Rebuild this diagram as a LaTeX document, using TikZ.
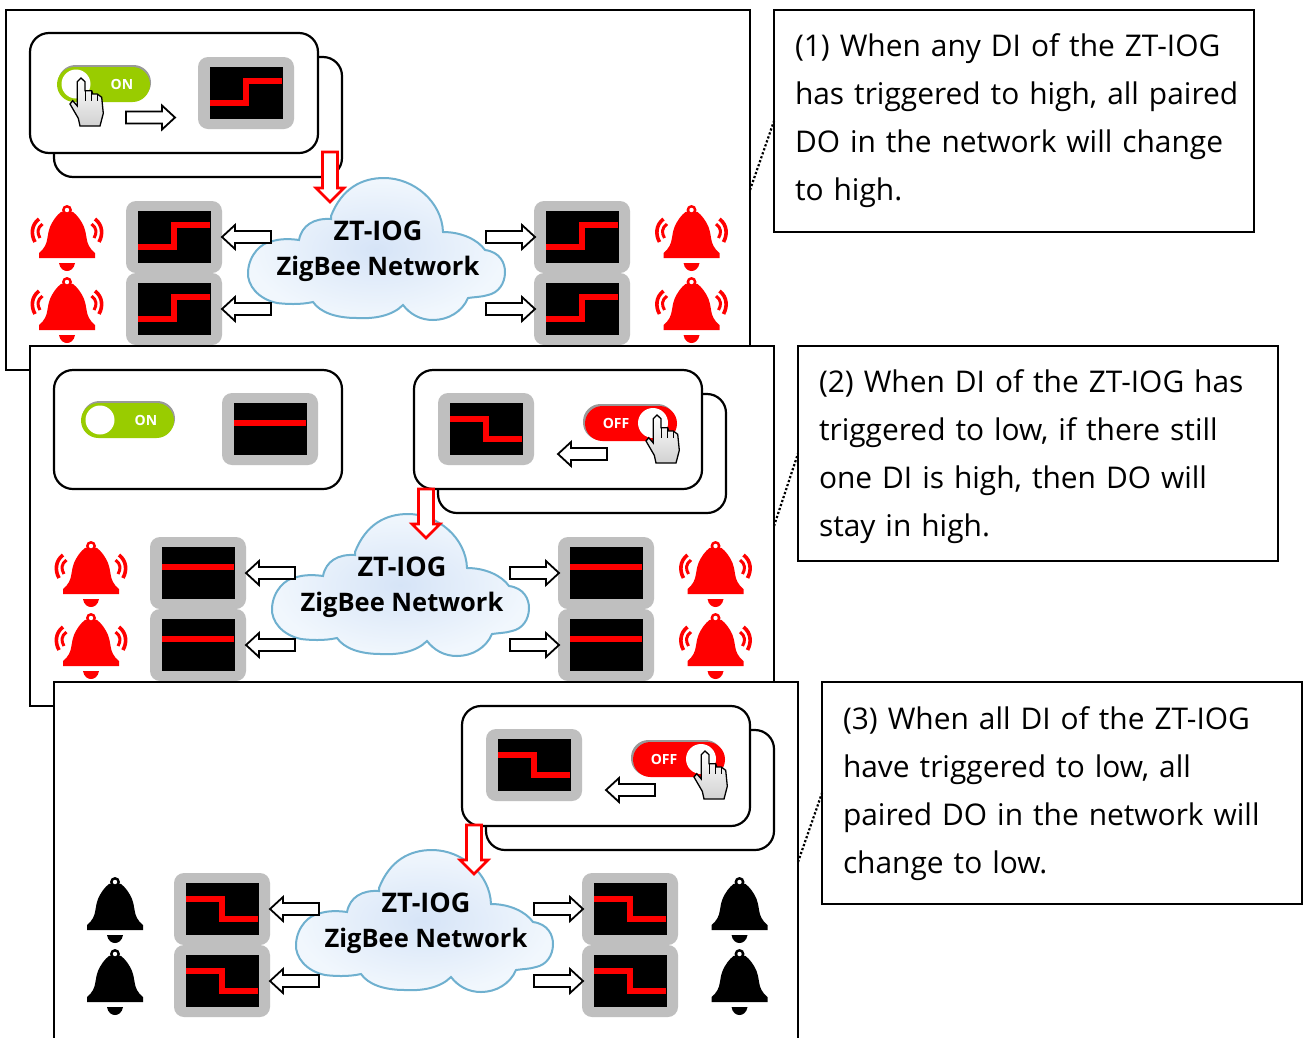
\documentclass[tikz,border=0pt]{standalone}
\usepackage{fontspec}
\setmainfont{Open Sans}
\definecolor{mongray}{HTML}{BFBFBF}
\definecolor{sigred}{HTML}{FF0000}
\definecolor{swgreen}{HTML}{99CC00}
\definecolor{cloudline}{HTML}{6FB0CF}
\definecolor{cloudin}{HTML}{D6E4F7}
\definecolor{cloudout}{HTML}{F1F7FD}
\tikzset{
  panelbox/.style={draw=black,line width=2pt,fill=white,rectangle,anchor=north west,minimum width=744pt,minimum height=360pt,inner sep=0pt,outer sep=0pt},
  notebox/.style={draw=black,line width=2pt,fill=white,rectangle,anchor=north west,minimum width=480pt,text width=438pt,align=left,inner xsep=21pt,inner ysep=0pt,outer sep=0pt,font=\fontsize{29.9}{48}\selectfont},
  leader/.style={line width=2.2pt,dotted},
  cardbox/.style={draw=black,line width=2.2pt,fill=white,rounded corners=19pt},
  hollow/.style={draw=black,line width=1.8pt,fill=white,miter limit=10},
  redhollow/.style={draw=sigred,line width=2.6pt,fill=white},
  sigline/.style={draw=sigred,line width=5.5pt},
  cloudlabel/.style={font=\bfseries\fontsize{25.5}{35}\selectfont,align=center,inner sep=0pt},
}
% monitor: top-left, kind 0 rise / 1 fall / 2 flat
\newcommand{\Monitor}[3]{%
  \begin{scope}[shift={(#1,#2)}]
    \fill[mongray,rounded corners=10pt] (0,0) rectangle (96,72);
    \fill[black] (12,10) rectangle (85,62);
    \ifcase#3
      \draw[sigline] (12,46) -- (48,46) -- (48,24) -- (84,24);
    \or
      \draw[sigline] (12,26) -- (48,26) -- (48,46) -- (84,46);
    \or
      \draw[sigline] (12,30) -- (84,30);
    \fi
  \end{scope}}
% bell: top centre, colour, waves 0/1
\newcommand{\Bell}[4]{%
  \begin{scope}[shift={(#1,#2)}]
    \fill[#3] (-2,6) -- (-6,7) .. controls (-10,10) and (-14,15) .. (-17,22)
      .. controls (-20,30) and (-19,36) .. (-22,41)
      .. controls (-23,44) and (-26,46) .. (-28,48) -- (-28,53) -- (28,53) -- (28,48)
      .. controls (26,46) and (23,44) .. (22,41)
      .. controls (19,36) and (20,30) .. (17,22)
      .. controls (14,15) and (10,10) .. (6,7) -- (2,6) -- cycle;
    \fill[#3] (0,5) circle (5pt);
    \fill[white] (0,5) circle (2.2pt);
    \fill[#3] (-8,58) -- (8,58) .. controls (7,64) and (3,66) .. (0,66) .. controls (-3,66) and (-7,64) .. (-8,58) -- cycle;
    \ifnum#4=1
      \foreach \s in {-1,1}{
        \draw[#3,line width=3.6pt] (\s*28,14) .. controls (\s*36,20) and (\s*36,30) .. (\s*32,37);
        \draw[#3,line width=3pt] (\s*24.5,19) .. controls (\s*30,23) and (\s*30,28) .. (\s*27,33);
      }
    \fi
  \end{scope}}
% hand: fingertip
\newcommand{\Hand}[2]{%
  \begin{scope}[shift={(#1,#2)}]
    \draw[line width=1.3pt,draw=black,top color=white,bottom color=black!18,shading angle=0]
      (-3.7,3.7) -- (0,0) -- (4,3.7) -- (4,12.7) -- (10.7,12.7) -- (11.7,16) -- (16.3,16) -- (20.7,19.3)
      -- (22.3,35.3) -- (19,48) -- (-1,48) -- (-2.7,40.3) -- (-11,26) -- (-8.3,22.7) -- (-3.7,28) -- cycle;
    \draw[line width=1pt] (4,12.7) -- (4,23) (10.7,12.7) -- (10.7,23) (16.3,16) -- (16.3,23);
  \end{scope}}
% switches: left, centre y, node name
\newcommand{\SwitchOn}[3]{%
  \begin{scope}[shift={(#1,#2)}]
    \fill[gray!80,rounded corners=17.5pt] (1,-19) rectangle (94,16);
    \fill[swgreen,rounded corners=17.5pt] (0,-17) rectangle (93,18);
    \fill[white] (19,0) circle (14.5pt);
    \node[name=#3,inner sep=0pt,text=white,font=\bfseries\fontsize{14}{14}\selectfont] at (65,0) {ON};
  \end{scope}}
\newcommand{\SwitchOff}[3]{%
  \begin{scope}[shift={(#1,#2)}]
    \fill[gray!80,rounded corners=17.5pt] (0,-19) rectangle (92,17);
    \fill[sigred,rounded corners=17.5pt] (2,-17) rectangle (94,18);
    \fill[white] (70,0) circle (15pt);
    \node[name=#3,inner sep=0pt,text=white,font=\bfseries\fontsize{14}{14}\selectfont] at (33,0) {OFF};
  \end{scope}}
% hollow arrows: tip x, y, direction +1 right / -1 left
\newcommand{\SideArrow}[3]{%
  \begin{scope}[shift={(#1,#2)},xscale=#3]
    \draw[hollow] (0,0) -- (-13,-12) -- (-13,-6) -- (-49,-6) -- (-49,6) -- (-13,6) -- (-13,12) -- cycle;
  \end{scope}}
% red arrow: tip x, tip y, shaft length
\newcommand{\RedArrow}[3]{%
  \draw[redhollow,shift={(#1,#2)}] (0,0) -- (-14,-14) -- (-7.5,-14) -- (-7.5,-#3) -- (7.5,-#3) -- (7.5,-14) -- (14,-14) -- cycle;}
% network part of a panel
\newcommand{\Network}[4]{% kind, bell colour, waves, prefix
  \path[draw=cloudline,line width=2pt,inner color=cloudin,outer color=cloudout]
    (331,216) .. controls (342,188) and (362,178) .. (384,178)
    .. controls (414,178) and (442,202) .. (443,232)
    .. controls (462,232) and (478,240) .. (485,250)
    .. controls (500,252) and (505,263) .. (505,272)
    .. controls (505,284) and (498,293) .. (488,295)
    .. controls (482,297) and (474,297) .. (468,298)
    .. controls (462,312) and (448,320) .. (433,320)
    .. controls (420,320) and (410,314) .. (403,305)
    .. controls (392,316) and (374,319) .. (357,318)
    .. controls (335,318) and (320,312) .. (313,302)
    .. controls (300,305) and (285,304) .. (277,303)
    .. controls (258,299) and (247,285) .. (248,272)
    .. controls (249,254) and (262,243) .. (270,242)
    .. controls (280,238) and (292,239) .. (299,240)
    .. controls (302,225) and (314,218) .. (331,219) -- cycle;
  \node[cloudlabel,name=#4label] at (378,251.5) {{\fontsize{27}{35}\selectfont ZT-IOG}\\ZigBee Network};
  \foreach \y in {201,273}{
    \Monitor{126}{\y}{#1}
    \Monitor{534}{\y}{#1}
  }
  \foreach \y in {237,309}{
    \SideArrow{222}{\y}{-1}
    \SideArrow{535}{\y}{1}
  }
  \foreach \y in {205,277}{
    \Bell{67}{\y}{#2}{#3}
    \Bell{691.5}{\y}{#2}{#3}
  }}
\begin{document}
\begin{tikzpicture}[x=1pt,y=-1pt]
\useasboundingbox (0,0) rectangle (1308,1037);
\fill[white] (0,0) rectangle (1308,1037);
% ---- panel 1
\node[panelbox] (panelA) at (6,10) {};
\node[notebox,minimum height=222pt] (noteA) at (774,10) {(1) When any DI of the ZT-IOG\\\mbox{has triggered to high, all paired}\\DO in the network will change\\to high.};
\draw[leader] (panelA.east) -- (noteA.west);
\draw[cardbox] (54,57) rectangle (342,177);
\draw[cardbox] (30,33) rectangle (318,153);
\SwitchOn{57}{84}{swA}
\Hand{81}{78}
\SideArrow{175}{117.5}{1}
\Monitor{198}{57}{0}
\Network{0}{sigred}{1}{netA}
\RedArrow{330}{202}{50}
% ---- panel 2
\node[panelbox] (panelB) at (30,346) {};
\node[notebox,minimum height=215pt] (noteB) at (798,346) {\rule{0pt}{29pt}(2) When DI of the ZT-IOG has\\triggered to low, if there still\\one DI is high, then DO will\\stay in high.};
\draw[leader] (panelB.east) -- (noteB.west);
\draw[cardbox] (54,370) rectangle (342,489);
\SwitchOn{81}{420}{swB}
\Monitor{222}{393}{2}
\draw[cardbox] (438,394) rectangle (726,513);
\draw[cardbox] (414,370) rectangle (702,489);
\Monitor{438}{393}{1}
\SwitchOff{583}{423}{swC}
\Hand{657}{415}
\SideArrow{558}{454}{-1}
\begin{scope}[shift={(24,336)}]
\Network{2}{sigred}{1}{netB}
\end{scope}
\RedArrow{426}{538}{49}
% ---- panel 3
\node[panelbox] (panelC) at (54,682) {};
\node[notebox,minimum height=222pt] (noteC) at (822,682) {\rule{0pt}{25pt}(3) When all DI of the ZT-IOG\\have triggered to low, all\\paired DO in the network will\\change to low.};
\draw[leader] (panelC.east) -- (noteC.west);
\draw[cardbox] (486,730) rectangle (774,850);
\draw[cardbox] (462,706) rectangle (750,826);
\Monitor{486}{729}{1}
\SwitchOff{631}{759}{swD}
\Hand{705}{751}
\SideArrow{606}{790}{-1}
\begin{scope}[shift={(48,672)}]
\Network{1}{black}{0}{netC}
\end{scope}
\RedArrow{474}{874}{49}
\end{tikzpicture}
\end{document}
